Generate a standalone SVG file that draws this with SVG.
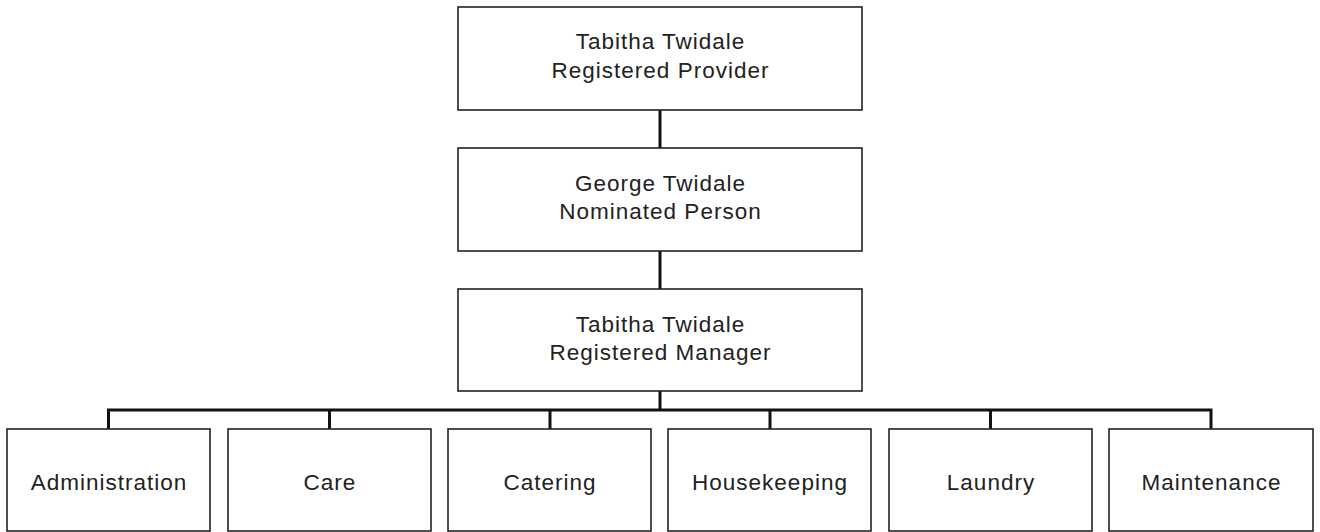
<svg xmlns="http://www.w3.org/2000/svg" width="1320" height="532" viewBox="0 0 1320 532">
<style>
.box{fill:#fff;stroke:#222;stroke-width:1.6}
.t{font-family:"Liberation Sans",Arial,sans-serif;font-size:22.5px;letter-spacing:1px;fill:#222;text-anchor:middle}
.c{stroke:#111;stroke-width:3;fill:none}
</style>
<rect width="1320" height="532" fill="#fff"/>
<g id="connectors">
<line class="c" x1="660" y1="110" x2="660" y2="148"/>
<line class="c" x1="660" y1="251" x2="660" y2="289"/>
<line class="c" x1="660" y1="391" x2="660" y2="410"/>
<polyline class="c" points="108.5,429 108.5,410 1211,410 1211,429"/>
<line class="c" x1="329.5" y1="410" x2="329.5" y2="429"/>
<line class="c" x1="550" y1="410" x2="550" y2="429"/>
<line class="c" x1="770" y1="410" x2="770" y2="429"/>
<line class="c" x1="990.5" y1="410" x2="990.5" y2="429"/>
</g>
<g id="provider">
<rect class="box" x="458" y="7" width="404" height="103"/>
<text class="t" x="660.5" y="49">Tabitha Twidale</text>
<text class="t" x="660.5" y="78">Registered Provider</text>
</g>
<g id="nominated">
<rect class="box" x="458" y="148" width="404" height="103"/>
<text class="t" x="660.5" y="191">George Twidale</text>
<text class="t" x="660.5" y="219">Nominated Person</text>
</g>
<g id="manager">
<rect class="box" x="458" y="289" width="404" height="102"/>
<text class="t" x="660.5" y="332">Tabitha Twidale</text>
<text class="t" x="660.5" y="360">Registered Manager</text>
</g>
<g id="administration">
<rect class="box" x="7" y="429" width="203" height="102"/>
<text class="t" x="109" y="490">Administration</text>
</g>
<g id="care">
<rect class="box" x="228" y="429" width="203" height="102"/>
<text class="t" x="330" y="490">Care</text>
</g>
<g id="catering">
<rect class="box" x="448" y="429" width="203" height="102"/>
<text class="t" x="550" y="490">Catering</text>
</g>
<g id="housekeeping">
<rect class="box" x="668" y="429" width="203" height="102"/>
<text class="t" x="770" y="490">Housekeeping</text>
</g>
<g id="laundry">
<rect class="box" x="889" y="429" width="203" height="102"/>
<text class="t" x="991" y="490">Laundry</text>
</g>
<g id="maintenance">
<rect class="box" x="1109" y="429" width="204" height="102"/>
<text class="t" x="1211.5" y="490">Maintenance</text>
</g>
</svg>
